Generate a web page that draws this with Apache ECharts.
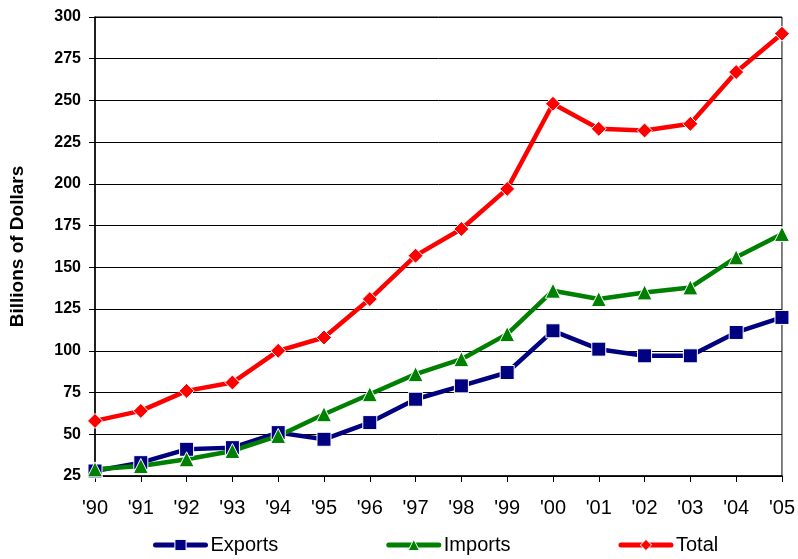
<!DOCTYPE html>
<html>
<head>
<meta charset="utf-8">
<script src="https://cdn.jsdelivr.net/npm/echarts@6/dist/echarts.min.js"></script>
<style>
  html, body { margin: 0; padding: 0; background: #fff; }
  #chart { width: 798px; height: 559px; }
</style>
</head>
<body>
<div id="chart"></div>
<script>
// Trade values by year, billions of dollars
const years = ["'90", "'91", "'92", "'93", "'94", "'95", "'96", "'97", "'98", "'99", "'00", "'01", "'02", "'03", "'04", "'05"];
const exportsData = [28, 33, 41, 42, 51, 47, 57, 71, 79, 87, 112, 101, 97, 97, 111, 120];
const importsData = [29, 31, 35, 40, 49, 62, 74, 86, 95, 110, 136, 131, 135, 138, 156, 170];
const totalData = [58, 64, 76, 81, 100, 108, 131, 157, 173, 197, 248, 233, 232, 236, 267, 290];

const FONT = 'Liberation Sans, Arial, Helvetica, sans-serif';

const chart = echarts.init(document.getElementById('chart'), null, { renderer: 'canvas' });

function lineSeries(name, data, color, symbol, size) {
  return {
    name: name,
    type: 'line',
    data: data,
    symbol: symbol,
    symbolSize: size,
    showAllSymbol: true,
    lineStyle: { color: color, width: 4.5 },
    itemStyle: { color: color, borderColor: '#fff', borderWidth: 1 },
    emphasis: { disabled: true },
    animation: false
  };
}

chart.setOption({
  backgroundColor: '#fff',
  animation: false,
  textStyle: { fontFamily: FONT },
  grid: {
    left: 95, right: 13, top: 17, bottom: 83,
    show: true, borderColor: '#000', borderWidth: 1, backgroundColor: 'transparent'
  },
  legend: {
    left: 153,
    top: 535,
    padding: 0,
    itemWidth: 50,
    itemHeight: 14,
    itemGap: 108,
    lineStyle: { width: 5, cap: 'round' },
    itemStyle: { borderColor: '#fff', borderWidth: 1 },
    textStyle: { fontFamily: FONT, fontSize: 20, color: '#000' },
    data: ['Exports', 'Imports', 'Total']
  },
  xAxis: {
    type: 'category',
    data: years,
    boundaryGap: false,
    axisLine: { lineStyle: { color: '#000', width: 1.5 } },
    axisTick: { show: true, inside: false, length: 6, alignWithLabel: true, lineStyle: { color: '#000' } },
    axisLabel: { fontFamily: FONT, fontSize: 20, color: '#000', margin: 22 },
    splitLine: { show: false }
  },
  yAxis: {
    type: 'value',
    min: 25,
    max: 300,
    interval: 25,
    name: 'Billions of Dollars',
    nameLocation: 'middle',
    nameRotate: 90,
    nameGap: 68,
    nameTextStyle: { fontFamily: FONT, fontSize: 19, fontWeight: 'bold', color: '#000' },
    axisLine: { show: true, lineStyle: { color: '#000', width: 1.5 } },
    axisTick: { show: true, inside: false, length: 6, lineStyle: { color: '#000' } },
    axisLabel: { fontFamily: FONT, fontSize: 16, fontWeight: 'bold', color: '#000', margin: 14 },
    splitLine: { show: true, lineStyle: { color: '#000', width: 1 } }
  },
  series: [
    lineSeries('Exports', exportsData, '#000080', 'rect', 14),
    lineSeries('Imports', importsData, '#008000', 'triangle', 15),
    lineSeries('Total', totalData, '#ff0000', 'diamond', 15)
  ]
});
</script>
</body>
</html>
